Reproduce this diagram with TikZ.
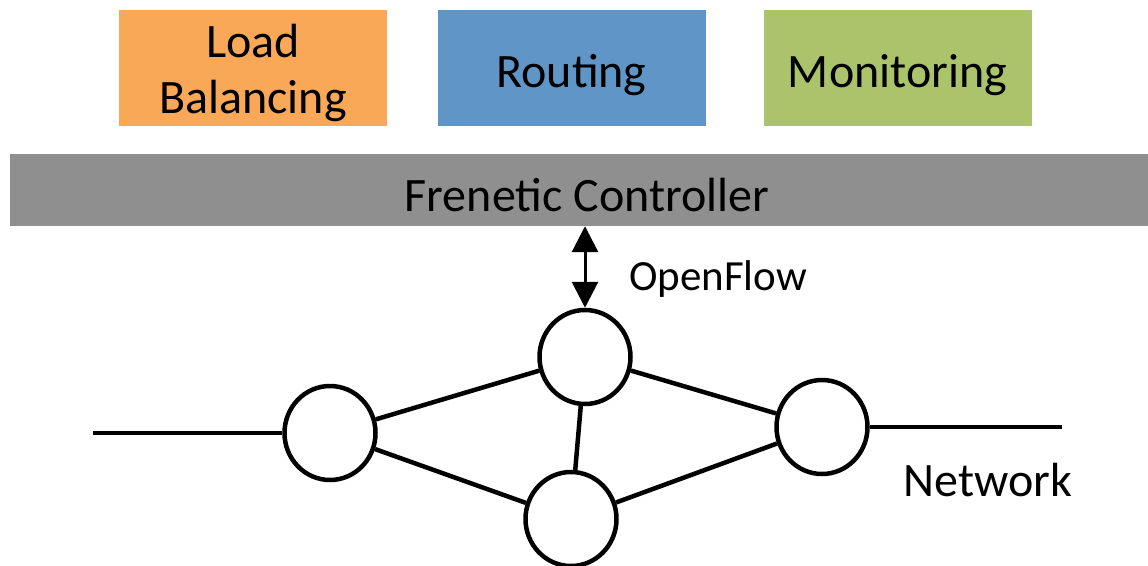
\documentclass[tikz,border=0pt]{standalone}
\usepackage{fontspec}
\setmainfont{Carlito}
\usetikzlibrary{arrows.meta,shapes.geometric}
\definecolor{lbOrange}{RGB}{249,168,87}
\definecolor{rtBlue}{RGB}{96,149,199}
\definecolor{mnGreen}{RGB}{171,196,107}
\definecolor{ctlGray}{RGB}{143,143,143}
\tikzset{
  appbox/.style={minimum width=268pt,minimum height=116pt,inner sep=0pt},
  apptext/.style={inner sep=0pt,align=center,font=\fontsize{48}{56}\selectfont},
  switchnode/.style={ellipse,draw=black,line width=4.5pt,fill=white,
    minimum width=91pt,minimum height=94pt,inner sep=0pt},
  link/.style={line width=4.5pt},
  lbl/.style={font=\fontsize{48}{56}\selectfont,inner sep=0pt}
}
\begin{document}
\begin{tikzpicture}[x=1pt,y=-1pt]
\useasboundingbox (0,0) rectangle (1148,565);
% application modules
\node[appbox,fill=lbOrange] (lb) at (253,68) {};
\node[appbox,fill=rtBlue] (rt) at (571.5,68) {};
\node[appbox,fill=mnGreen] (mn) at (897.5,68) {};
\node[apptext] (lbt) at (253,73) {Load\\Balancing};
\node[apptext] (rtt) at (571.5,75) {Routing};
\node[apptext] (mnt) at (897.5,75) {Monitoring};
% controller bar
\node[fill=ctlGray,minimum width=1138pt,minimum height=72pt,inner sep=0pt] (ctl) at (579,190) {};
\node[lbl] (ctlt) at (587,195) {Frenetic Controller};
% switches
\node[switchnode] (s1) at (330,433) {};
\node[switchnode] (s2) at (585,357) {};
\node[switchnode] (s3) at (571,519) {};
\node[switchnode] (s4) at (822,427) {};
\coordinate (inL) at (93,433);
\coordinate (inR) at (1062,427);
% links
\draw[link] (inL) -- (s1);
\draw[link] (s4) -- (inR);
\draw[link] (s1) -- (s2);
\draw[link] (s1) -- (s3);
\draw[link] (s2) -- (s3);
\draw[link] (s2) -- (s4);
\draw[link] (s3) -- (s4);
% control channel
\draw[line width=3pt,{Triangle[width=26pt,length=26pt]}-{Triangle[width=26pt,length=26pt]}]
  (s2.north |- ctl.south) -- (s2.north);
\node[lbl,font=\fontsize{43}{50}\selectfont] (of) at (718,279) {OpenFlow};
\node[lbl] (net) at (988,480) {Network};
\end{tikzpicture}
\end{document}
